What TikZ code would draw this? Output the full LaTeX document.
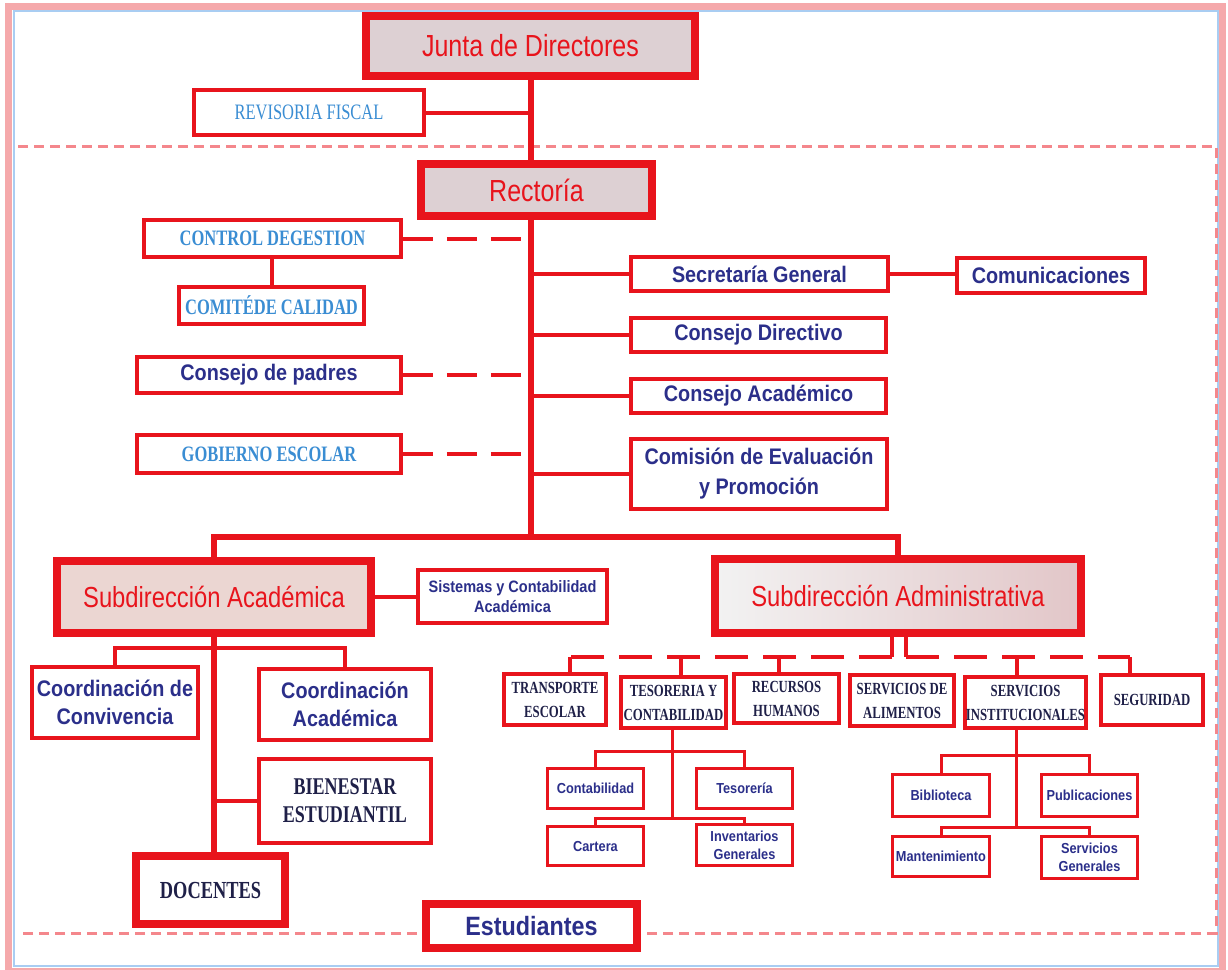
\documentclass[tikz,border=0pt]{standalone}
\usepackage{fontspec}
\setmainfont{Liberation Sans}
\newfontfamily\tsans[FakeStretch=0.82]{Liberation Sans}
\newfontfamily\nsans[FakeStretch=0.88]{Liberation Sans}
\newfontfamily\cser[FakeStretch=0.75]{Liberation Serif}
\definecolor{ored}{HTML}{E8141C}
\definecolor{navy}{HTML}{2B2F8A}
\definecolor{lblue}{HTML}{3A8DD3}
\definecolor{dkn}{HTML}{1F2048}
\definecolor{fpink}{HTML}{F4878C}
\definecolor{opink}{HTML}{F5A9AB}
\definecolor{oblue}{HTML}{A9CDF2}
\definecolor{shA}{HTML}{DDD0D3}
\definecolor{shB}{HTML}{EBD6D2}
\definecolor{shC}{HTML}{E2C6C8}
\pgfdeclarelayer{bg}
\pgfsetlayers{bg,main}
\tikzset{
  bx/.style={draw=ored, line width=3.5pt, fill=white, inner sep=0pt, align=center},
  sbx/.style={bx, line width=3pt},
  big/.style={draw=ored, line width=7.5pt, inner sep=0pt, align=center},
  ttl/.style={font=\tsans\fontsize{30.5}{34}\selectfont, text=ored},
  nv/.style={font=\nsans\bfseries\fontsize{22.5}{28}\selectfont, text=navy},
  nvs/.style={font=\nsans\bfseries\fontsize{14.5}{18}\selectfont, text=navy},
  bl/.style={font=\cser\bfseries\fontsize{22}{26}\selectfont, text=lblue},
  dk/.style={font=\cser\bfseries\fontsize{17}{24}\selectfont, text=dkn},
  mainln/.style={draw=ored, line width=6pt},
  ln/.style={draw=ored, line width=4pt},
  sln/.style={draw=ored, line width=3pt},
  dln/.style={draw=ored, line width=4pt, dash pattern=on 30pt off 14pt},
  dlnb/.style={draw=ored, line width=4pt, dash pattern=on 33pt off 15pt},
  frm/.style={draw=fpink, line width=3pt, dash pattern=on 10pt off 6pt},
  inner/.style={draw=ored, line width=1.5pt},
}
\begin{document}
\begin{tikzpicture}[x=1pt,y=-1pt]
\useasboundingbox (0,0) rectangle (1228,969);
% ---------- nodes ----------
\node[big, fill=shA, minimum width=329, minimum height=60, ttl] (junta) at (530.5,46) {Junta de Directores};
\node[bx, minimum width=230, minimum height=45, font=\cser\fontsize{22}{26}\selectfont, text=lblue] (rev) at (309,112.5) {REVISORIA FISCAL};
\node[big, fill=shA, minimum width=231, minimum height=52, ttl] (rect) at (536.5,190) {Rectoría};

\node[bx, minimum width=257, minimum height=37, bl] (ctrl) at (272.5,238.5) {CONTROL DEGESTION};
\node[bx, minimum width=185, minimum height=37, bl] (comite) at (271.5,305.5) {COMITÉDE CALIDAD};
\node[bx, minimum width=264, minimum height=36, nv] (padres) at (269,375) {Consejo de padres};
\node[bx, minimum width=264, minimum height=38, bl] (gob) at (269,454) {GOBIERNO ESCOLAR};

\node[bx, minimum width=257, minimum height=34, nv] (sec) at (759.5,274) {Secretaría General};
\node[bx, minimum width=188, minimum height=35, nv] (comu) at (1051,275.5) {Comunicaciones};
\node[bx, minimum width=255, minimum height=34, nv] (cdir) at (758.5,335) {Consejo Directivo};
\node[bx, minimum width=255, minimum height=34, nv] (cacad) at (758.5,396) {Consejo Académico};
\node[bx, minimum width=256, minimum height=70, nv, font=\nsans\bfseries\fontsize{22.5}{30}\selectfont] (comis) at (759,474) {Comisión de Evaluación\\y Promoción};

\node[big, fill=shB, minimum width=314, minimum height=72, ttl, font=\tsans\fontsize{29}{34}\selectfont] (subacad) at (214,597) {Subdirección Académica};
\node[bx, minimum width=189, minimum height=53, nv, font=\nsans\bfseries\fontsize{16.5}{20}\selectfont] (sis) at (512.5,596.5) {Sistemas y Contabilidad\\Académica};
\node[big, left color=gray!10, right color=shC, minimum width=366, minimum height=74, ttl, font=\tsans\fontsize{29}{34}\selectfont] (subadm) at (898,596) {Subdirección Administrativa};

\node[bx, minimum width=166, minimum height=71, nv] (conv) at (115,702.5) {Coordinación de\\Convivencia};
\node[bx, minimum width=172, minimum height=71, nv] (coac) at (345,704.5) {Coordinación\\Académica};
\node[bx, minimum width=172, minimum height=84, font=\cser\bfseries\fontsize{24}{28}\selectfont, text=dkn] (bien) at (345,801) {BIENESTAR\\ESTUDIANTIL};
\node[big, fill=white, minimum width=149, minimum height=68, font=\cser\bfseries\fontsize{24.5}{28}\selectfont, text=dkn] (doc) at (210.5,890) {DOCENTES};
\node[big, fill=white, minimum width=211, minimum height=44, nv, font=\nsans\bfseries\fontsize{26.5}{30}\selectfont] (est) at (531.5,926) {Estudiantes};

\node[bx, line width=3.5pt, minimum width=102, minimum height=51, dk] (transp) at (555,699.5) {TRANSPORTE\\ESCOLAR};
\node[bx, minimum width=105, minimum height=51, dk] (tes) at (673.5,702.5) {TESORERIA Y\\CONTABILIDAD};
\node[bx, minimum width=105, minimum height=49, dk] (rrhh) at (786.5,698.5) {RECURSOS\\HUMANOS};
\node[bx, minimum width=104, minimum height=51, dk] (alim) at (902,700.5) {SERVICIOS DE\\ALIMENTOS};
\node[bx, minimum width=121, minimum height=51, dk] (inst) at (1025.5,702.5) {SERVICIOS\\INSTITUCIONALES};
\node[bx, minimum width=102, minimum height=50, dk] (seg) at (1152,700) {SEGURIDAD};

\node[sbx, minimum width=96, minimum height=40, nvs] (conta) at (595.5,788.5) {Contabilidad};
\node[sbx, minimum width=96, minimum height=40, nvs] (tesor) at (744.5,788.5) {Tesorería};
\node[sbx, minimum width=96, minimum height=39, nvs] (cart) at (595.5,846) {Cartera};
\node[sbx, minimum width=96, minimum height=41, nvs] (inv) at (744.5,845) {Inventarios\\Generales};
\node[sbx, minimum width=97, minimum height=42, nvs] (bib) at (941,795.5) {Biblioteca};
\node[sbx, minimum width=96, minimum height=42, nvs] (pub) at (1089.5,795.5) {Publicaciones};
\node[sbx, minimum width=97, minimum height=40, nvs] (mant) at (941,856.5) {Mantenimiento};
\node[sbx, minimum width=96, minimum height=42, nvs] (sgen) at (1089.5,857.5) {Servicios\\Generales};

% inner thin frames of the title boxes
\foreach \n in {junta,rect,subacad,subadm}{
  \draw[inner] ([shift={(7pt,-7pt)}]\n.north west) rectangle ([shift={(-7pt,7pt)}]\n.south east);
}

% ---------- background: frame and connectors ----------
\begin{pgfonlayer}{bg}
\fill[white] (0,0) rectangle (1228,969);
\draw[draw=opink, line width=7pt] (8,6) rectangle (1222,971);
\draw[draw=oblue, line width=1.5pt] (14,11) rectangle (1218,966);
\draw[frm] (18,146) -- (1216,146) -- (1216,933) -- (18,933);

\coordinate (bus) at (530.5,537);
\coordinate (cbar) at (214,648);
\coordinate (ab1) at (892,657);
\coordinate (ab2) at (906,657);
\coordinate (tup) at (672,751);
\coordinate (tlow) at (672,818);
\coordinate (iup) at (1016,755);
\coordinate (ilow) at (1016,827);

% spine
\draw[mainln] (junta.south) -- (junta.south |- bus);
\draw[mainln] (subacad.north) -- (subacad.north |- bus) -- (subadm.north |- bus) -- (subadm.north);
\draw[ln] (rev.east) -- (rev.east -| junta.south);

% left dashed links
\draw[dln] (ctrl.east) -- (ctrl.east -| junta.south);
\draw[dln] (padres.east) -- (padres.east -| junta.south);
\draw[dln] (gob.east) -- (gob.east -| junta.south);
\draw[ln] (ctrl.south -| comite.north) -- (comite.north);

% right links
\draw[ln] (junta.south |- sec.west) -- (sec.west);
\draw[ln] (sec.east) -- (sec.east -| comu.west);
\draw[ln] (junta.south |- cdir.west) -- (cdir.west);
\draw[ln] (junta.south |- cacad.west) -- (cacad.west);
\draw[ln] (junta.south |- comis.west) -- (comis.west);

% Subdireccion Academica
\draw[ln] (subacad.east) -- (subacad.east -| sis.west);
\draw[mainln] (subacad.south) -- (subacad.south |- doc.north);
\draw[ln] (conv.north) -- (conv.north |- cbar) -- (coac.north |- cbar) -- (coac.north);
\draw[ln] (subacad.south |- bien.west) -- (bien.west);

% Subdireccion Administrativa
\draw[ln] (subadm.south -| ab1) -- (ab1);
\draw[ln] (subadm.south -| ab2) -- (ab2);
\draw[dlnb] (ab1) -- ([xshift=15pt]transp.north |- ab1);
\draw[dlnb] (ab2) -- ([xshift=-22pt]seg.north |- ab2);
\draw[ln] ([xshift=15pt]transp.north |- ab1) -- ([xshift=15pt]transp.north);
\draw[ln] ([xshift=7.5pt]tes.north |- ab1) -- ([xshift=7.5pt]tes.north);
\draw[ln] ([xshift=-7.5pt]rrhh.north |- ab1) -- ([xshift=-7.5pt]rrhh.north);
\draw[ln] ([xshift=-9pt]inst.north |- ab2) -- ([xshift=-9pt]inst.north);
\draw[ln] ([xshift=-22pt]seg.north |- ab2) -- ([xshift=-22pt]seg.north);

% Tesoreria subtree
\draw[sln] (tes.south -| tup) -- (tlow);
\draw[sln] (conta.north) -- (conta.north |- tup) -- (tesor.north |- tup) -- (tesor.north);
\draw[sln] (cart.north) -- (cart.north |- tlow) -- (inv.north |- tlow) -- (inv.north);

% Servicios institucionales subtree
\draw[sln] (inst.south -| iup) -- (ilow);
\draw[sln] (bib.north) -- (bib.north |- iup) -- (pub.north |- iup) -- (pub.north);
\draw[sln] (mant.north) -- (mant.north |- ilow) -- (sgen.north |- ilow) -- (sgen.north);
\end{pgfonlayer}
\end{tikzpicture}
\end{document}
